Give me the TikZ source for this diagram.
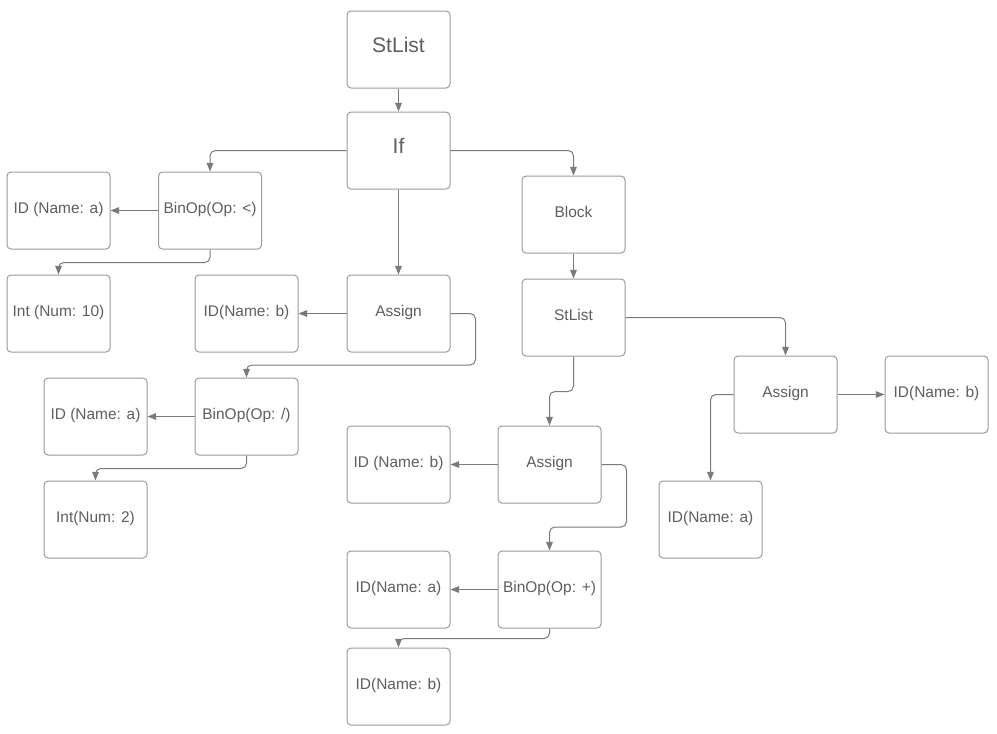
\documentclass[tikz,border=0pt]{standalone}
\usepackage{fontspec}
\setmainfont{Liberation Sans}
\usetikzlibrary{arrows.meta,calc}

\definecolor{boxline}{HTML}{9A9A9A}
\definecolor{wire}{HTML}{7A7A7A}
\definecolor{label}{HTML}{5E5E5E}

\begin{document}
\begin{tikzpicture}[x=0.75pt,y=-0.75pt,
    astnode/.style={draw=boxline,line width=.75pt,rounded corners=3pt,minimum width=77.25pt,
      minimum height=57.75pt,inner sep=0pt,text=label,text height=.75em,text depth=.3em,
      font=\fontsize{11.6}{14}\selectfont},
    bignode/.style={astnode,font=\fontsize{15.8}{19}\selectfont},
    edge/.style={draw=wire,line width=.75pt,rounded corners=4pt,-{Triangle[length=6.5pt,width=5pt]}}]

  %%%% Background and page size %%%%
  \fill[white] (0,0) rectangle (997,733);

  %% root and condition
  \node[bignode] (stlistA) at (398.5,49.5)  {StList};
  \node[bignode] (ifnode)  at (398.5,150.5) {If};

  %% the other boxes of the tree
  \foreach \name/\x/\y/\txt in {
      binopLt/210/210.5/{BinOp(Op: <)},
      idA1/58.5/210.5/{ID (Name: a)},
      intTen/58.5/313.5/{Int (Num: 10)},
      idB1/246.5/313.5/{ID(Name: b)},
      assignA/398.5/313.5/{Assign},
      binopDiv/246.5/416.5/{BinOp(Op: /)},
      idA2/95.5/416.5/{ID (Name: a)},
      intTwo/95.5/519.5/{Int(Num: 2)},
      idB2/398.5/464.5/{ID (Name: b)},
      assignB/549.5/464.5/{Assign},
      idA3/398.5/589.5/{ID(Name: a)},
      binopAdd/549.5/589.5/{BinOp(Op: +)},
      idB3/398.5/686.5/{ID(Name: b)},
      block/573.5/214.5/{Block},
      stlistB/573.5/317.5/{StList},
      assignC/785.5/394.5/{Assign},
      idB4/936.5/394.5/{ID(Name: b)},
      idA4/710.5/519.5/{ID(Name: a)}}{
    \node[astnode] (\name) at (\x,\y) {\txt};
  }

  %% edges of the if
  \draw[edge] (stlistA) -- (ifnode);
  \draw[edge] (ifnode.west) -| (binopLt.north);
  \draw[edge] (ifnode.east) -| (block.north);
  \draw[edge] (ifnode) -- (assignA);

  %% condition a < 10
  \draw[edge] (binopLt) -- (idA1);
  \draw[edge] (binopLt.south) -- ++(0,13) -| (intTen.north);

  %% b = a / 2
  \draw[edge] (assignA) -- (idB1);
  \draw[edge] (assignA.east) -- ++(25,0) -- ++(0,51.5) -| (binopDiv.north);
  \draw[edge] (binopDiv) -- (idA2);
  \draw[edge] (binopDiv.south) -- ++(0,13) -| (intTwo.north);

  %% block with its statements
  \draw[edge] (block) -- (stlistB);
  \draw[edge] (stlistB.east) -| (assignC.north);
  \draw[edge] (stlistB.south) -- ++(0,35) -| (assignB.north);

  %% b = a + b
  \draw[edge] (assignB) -- (idB2);
  \draw[edge] (assignB.east) -- ++(25,0) -- ++(0,62.5) -| (binopAdd.north);
  \draw[edge] (binopAdd) -- (idA3);
  \draw[edge] (binopAdd.south) -- ++(0,10) -| (idB3.north);

  %% a = b
  \draw[edge] (assignC) -- (idB4);
  \draw[edge] (assignC.west) -| (idA4.north);

\end{tikzpicture}
\end{document}
